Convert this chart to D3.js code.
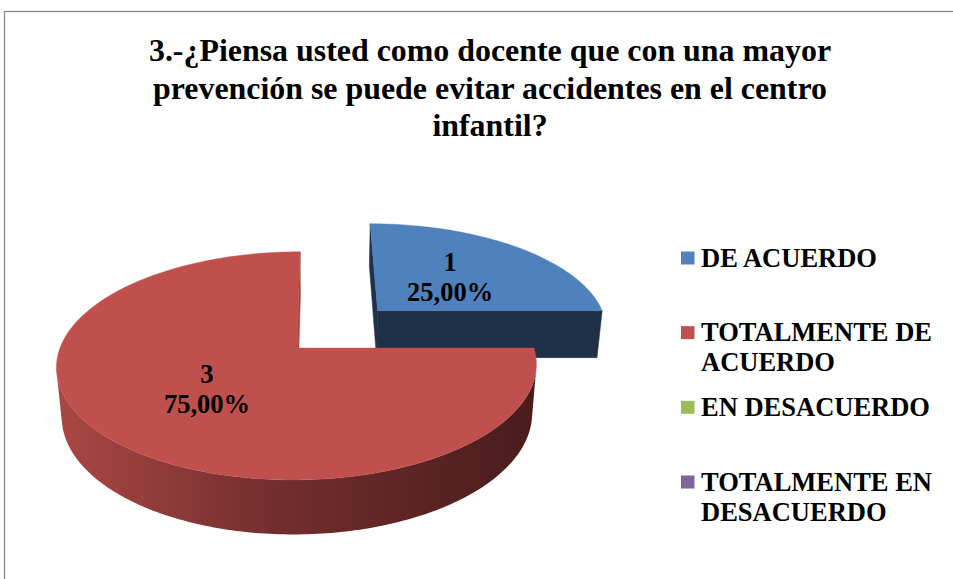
<!DOCTYPE html>
<html><head><meta charset="utf-8">
<script src="https://cdn.jsdelivr.net/npm/d3@7"></script>
<style>body{margin:0;background:#fff;} svg{display:block;}</style>
</head><body>
<svg id="chart" width="953" height="579"></svg>
<script>
// ---- data ----
const titleLines = [
  "3.-¿Piensa usted como docente que con una mayor",
  "prevención se puede evitar accidentes en el centro",
  "infantil?"
];
const categories = ["DE ACUERDO", "TOTALMENTE DE ACUERDO", "EN DESACUERDO", "TOTALMENTE EN DESACUERDO"];
const values = [1, 3, 0, 0];
const colors = ["#4F81BD", "#C0504D", "#9BBB59", "#8064A2"];
const explode = [0.5, 0, 0, 0];

// ---- style / geometry ----
const W = 953, H = 579;
const FONT = "'Liberation Serif','Times New Roman',serif";
const phi = 28 * Math.PI / 180;   // elevation
const Dcam = 5.64;                // camera distance in radii
const F = 237 * Dcam;             // focal length (px)
const vx = 320, vy = 348;         // vanishing axis / pie top-centre screen y
const x0 = (297 - vx) / 237;      // pie centre world x relative to vanishing axis
const thick = 0.2375;             // pie height in radii
const labelR = 0.5;

const wallColors = [
  {radial: "#1F3149", light: "#1F3149", dark: "#1F3149"},
  {radial: "#A84542", light: "#AA4744", dark: "#4A1C1C"},
  {radial: "#6E8A3A", light: "#7F9A48", dark: "#3D4A22"},
  {radial: "#5A4676", light: "#6A5488", dark: "#322842"}
];

const svg = d3.select("#chart");
const defs = svg.append("defs");

// frame
svg.append("rect").attr("x", 4.5).attr("y", 11.5).attr("width", 1000).attr("height", 700)
  .attr("fill", "none").attr("stroke", "#878787").attr("stroke-width", 1.3);

// title
svg.append("g").selectAll("text").data(titleLines).join("text")
  .attr("x", 490).attr("y", (d, i) => 61 + i * 37.6)
  .attr("text-anchor", "middle")
  .style("font-family", FONT).style("font-weight", "bold").style("font-size", "31.9px")
  .attr("fill", "#000").text(d => d);

// projection
const cphi = Math.cos(phi), sphi = Math.sin(phi);
function project(x, y, z) {
  const Yc = y * cphi + z * sphi;
  const Zc = Dcam + z * cphi - y * sphi;
  return [vx + F * x / Zc, vy - F * Yc / Zc];
}
const cam = [0, Dcam * sphi, -Dcam * cphi];

const pie = d3.pie().sort(null).value(d => d)(values);
const total = d3.sum(values);
const locale = d3.formatLocale({decimal: ",", thousands: ".", grouping: [3], currency: ["", ""]});
const fmtPct = locale.format(".2%");

const slices = pie.map((p, i) => {
  const mid = (p.startAngle + p.endAngle) / 2;
  const ox = x0 + explode[i] * Math.sin(mid), oz = explode[i] * Math.cos(mid);
  return {i, p, mid, ox, oz};
}).filter(s => s.p.value > 0);

function wp(s, a, r, y) { return [s.ox + r * Math.sin(a), y, s.oz + r * Math.cos(a)]; }
function P(v) { return project(v[0], v[1], v[2]); }
function visible(n, pt) {
  return n[0] * (cam[0] - pt[0]) + n[1] * (cam[1] - pt[1]) + n[2] * (cam[2] - pt[2]) > 0;
}
const line = d3.line();

// gradient for outer walls (horizontal)
const leftX = project(x0 - 1, 0, 0)[0], rightX = project(x0 + 1, 0, 0)[0];
slices.forEach(s => {
  const wc = wallColors[s.i];
  const g = defs.append("linearGradient").attr("id", "wall" + s.i)
    .attr("gradientUnits", "userSpaceOnUse")
    .attr("x1", leftX).attr("x2", rightX).attr("y1", 0).attr("y2", 0);
  g.append("stop").attr("offset", "0%").attr("stop-color", wc.light);
  g.append("stop").attr("offset", "45%").attr("stop-color", d3.interpolateRgb(wc.light, wc.dark)(0.58));
  g.append("stop").attr("offset", "100%").attr("stop-color", wc.dark);
});

// draw back-to-front
const order = slices.slice().sort((a, b) =>
  (b.oz + labelR * Math.cos(b.mid)) - (a.oz + labelR * Math.cos(a.mid)));

const gPie = svg.append("g");
order.forEach(s => {
  const a0 = s.p.startAngle, a1 = s.p.endAngle;
  const g = gPie.append("g");
  const wc = wallColors[s.i];
  // radial walls
  [[a0, a0 - Math.PI / 2], [a1, a1 + Math.PI / 2]].forEach(([a, na]) => {
    const n = [Math.sin(na), 0, Math.cos(na)];
    const midPt = wp(s, a, 0.5, -thick / 2);
    if (!visible(n, midPt)) return;
    const pts = [wp(s, a, 0, 0), wp(s, a, 1, 0), wp(s, a, 1, -thick), wp(s, a, 0, -thick)].map(P);
    g.append("path").attr("d", line(pts) + "Z").attr("fill", wc.radial)
      .attr("stroke", wc.radial).attr("stroke-width", 0.5).attr("stroke-linejoin", "round");
  });
  // outer wall
  const N = Math.max(8, Math.round((a1 - a0) / (Math.PI / 180)));
  const angs = d3.range(N + 1).map(k => a0 + (a1 - a0) * k / N);
  let runs = [], cur = null;
  for (let k = 0; k < N; k++) {
    const am = (angs[k] + angs[k + 1]) / 2;
    const vis = visible([Math.sin(am), 0, Math.cos(am)], wp(s, am, 1, -thick / 2));
    if (vis) { if (!cur) { cur = [angs[k]]; runs.push(cur); } cur.push(angs[k + 1]); }
    else cur = null;
  }
  runs.forEach(run => {
    const top = run.map(a => P(wp(s, a, 1, 0)));
    const bot = run.map(a => P(wp(s, a, 1, -thick))).reverse();
    g.append("path").attr("d", line(top.concat(bot)) + "Z").attr("fill", "url(#wall" + s.i + ")");
  });
  // top face
  const topPts = [P(wp(s, 0, 0, 0))].concat(angs.map(a => P(wp(s, a, 1, 0))));
  g.append("path").attr("d", line(topPts) + "Z").attr("fill", colors[s.i])
    .attr("stroke", colors[s.i]).attr("stroke-width", 0.4);
});

// data labels
const gLab = svg.append("g");
slices.forEach(s => {
  const c = P(wp(s, s.mid, labelR, 0));
  const t = gLab.append("text").attr("text-anchor", "middle")
    .style("font-family", FONT).style("font-weight", "bold").style("font-size", "26.5px").attr("fill", "#000");
  t.append("tspan").attr("x", c[0]).attr("y", c[1] - 15 + 8.8).text(s.p.value);
  t.append("tspan").attr("x", c[0]).attr("y", c[1] + 15 + 8.8).text(fmtPct(s.p.value / total));
});

// legend
const ly = d3.scalePoint().domain(categories).range([258, 482]);
const gLeg = svg.append("g");
categories.forEach((cat, i) => {
  const y = ly(cat);
  gLeg.append("rect").attr("x", 681).attr("y", y - 6.5).attr("width", 13.5).attr("height", 13).attr("fill", colors[i]);
  const t = gLeg.append("text").style("font-family", FONT).style("font-weight", "bold")
    .style("font-size", "26.5px").attr("fill", "#000");
  const words = cat.split(" ");
  let lines = [], curLine = [];
  const probe = t.append("tspan");
  words.forEach(w => {
    const test = curLine.concat([w]).join(" ");
    probe.text(test);
    if (probe.node().getComputedTextLength() > 242 && curLine.length) { lines.push(curLine.join(" ")); curLine = [w]; }
    else curLine.push(w);
  });
  lines.push(curLine.join(" "));
  probe.remove();
  lines.forEach((l, j) => t.append("tspan").attr("x", 701).attr("y", y + 8.8 + j * 30).text(l));
});
</script>
</body></html>
